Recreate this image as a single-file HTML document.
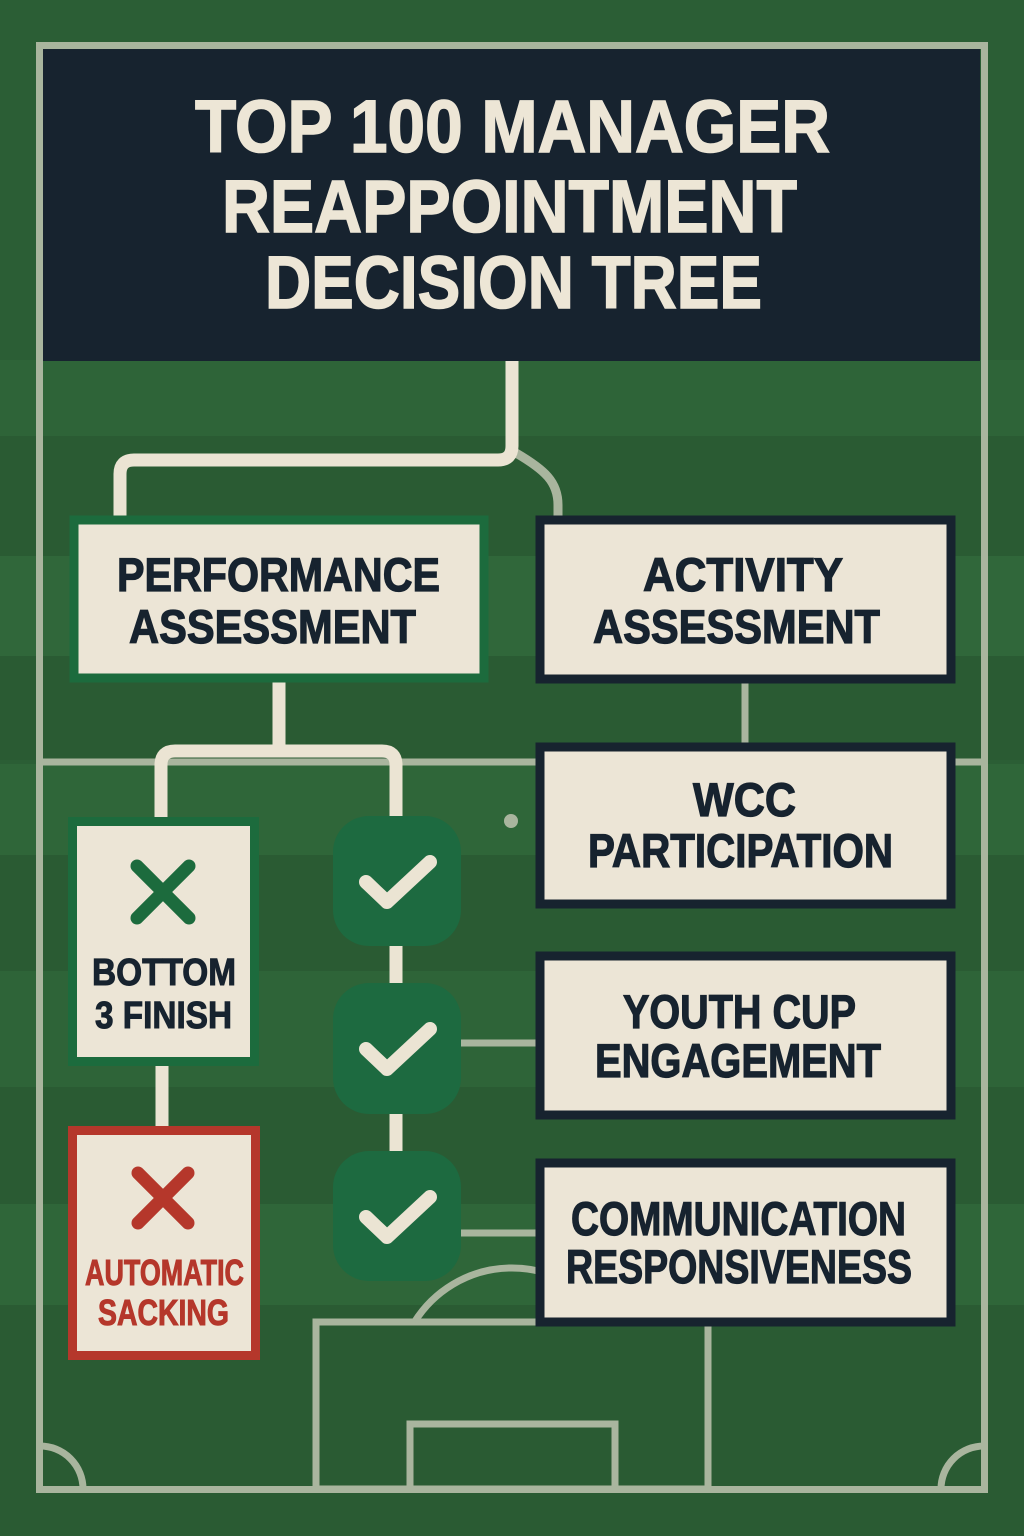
<!DOCTYPE html>
<html><head><meta charset="utf-8"><style>
html,body{margin:0;padding:0;background:#2b5e35;}
svg{display:block;}
text{font-family:"Liberation Sans",Arial,sans-serif;font-weight:bold;}
</style></head><body>
<svg width="1024" height="1536" viewBox="0 0 1024 1536" xmlns="http://www.w3.org/2000/svg">
<!-- background stripes -->
<rect x="0" y="0" width="1024" height="1536" fill="#2b5e35"/>
<rect x="0" y="360" width="1024" height="76" fill="#2e6438"/>
<rect x="0" y="436" width="1024" height="120" fill="#2a5b33"/>
<rect x="0" y="556" width="1024" height="100" fill="#30673a"/>
<rect x="0" y="656" width="1024" height="104" fill="#2a5b33"/>
<rect x="0" y="764" width="1024" height="91" fill="#2f6639"/>
<rect x="0" y="855" width="1024" height="116" fill="#2a5b33"/>
<rect x="0" y="971" width="1024" height="116" fill="#2e6438"/>
<rect x="0" y="1087" width="1024" height="117" fill="#2a5b33"/>
<rect x="0" y="1204" width="1024" height="101" fill="#2f6639"/>
<rect x="0" y="1305" width="1024" height="231" fill="#2a5b33"/>

<!-- pitch lines -->
<g stroke="#a9b59e" stroke-width="7" fill="none">
  <rect x="39.5" y="45.5" width="945" height="1444"/>
  <line x1="40" y1="762" x2="984" y2="762"/>
  <rect x="316" y="1322" width="392" height="167"/>
  <rect x="410" y="1424" width="205" height="65"/>
  <path d="M 414.5 1322 A 115 115 0 0 1 609.5 1322"/>
  <path d="M 40 1446 A 43 43 0 0 1 83 1489"/>
  <path d="M 984 1446 A 43 43 0 0 0 941 1489"/>
  <line x1="461" y1="1043" x2="538" y2="1043"/>
  <line x1="461" y1="1233" x2="538" y2="1233"/>
  <line x1="745" y1="680" x2="745" y2="746"/>
</g>
<circle cx="511" cy="821" r="7" fill="#a9b59e"/>
<!-- gray branch -->
<path d="M 516 453 C 545 470, 558 482, 558 505 L 558 520" stroke="#a9b59e" stroke-width="9" fill="none"/>

<!-- title -->
<rect x="43" y="49" width="937" height="312" fill="#17232f"/>
<g fill="#ede6d6" stroke="#ede6d6" stroke-width="1.5">
  <text x="195" y="152" font-size="74" textLength="635" lengthAdjust="spacingAndGlyphs">TOP 100 MANAGER</text>
  <text x="222" y="232" font-size="74" textLength="575" lengthAdjust="spacingAndGlyphs">REAPPOINTMENT</text>
  <text x="265" y="308" font-size="74" textLength="497" lengthAdjust="spacingAndGlyphs">DECISION TREE</text>
</g>

<!-- cream connectors -->
<g stroke="#ebe4d3" stroke-width="13" fill="none">
  <path d="M 512 361 L 512 446 Q 512 460 498 460 L 134 460 Q 120 460 120 474 L 120 518"/>
  <path d="M 279 680 L 279 751"/>
  <path d="M 161 820 L 161 765 Q 161 751 175 751 L 382 751 Q 396 751 396 765 L 396 820"/>
  <path d="M 162 1062 L 162 1130"/>
  <path d="M 396 942 L 396 987"/>
  <path d="M 396 1110 L 396 1155"/>
</g>

<!-- Performance box -->
<rect x="74" y="520" width="410" height="158" fill="#ece5d6" stroke="#1c6b3d" stroke-width="9"/>
<g fill="#17232f" stroke="#17232f" stroke-width="1.2">
  <text x="117" y="591" font-size="47" textLength="323" lengthAdjust="spacingAndGlyphs">PERFORMANCE</text>
  <text x="129" y="643" font-size="47" textLength="287" lengthAdjust="spacingAndGlyphs">ASSESSMENT</text>
</g>

<!-- Right boxes -->
<g fill="#ece5d6" stroke="#17232f" stroke-width="9">
  <rect x="540" y="520" width="411" height="159"/>
  <rect x="540" y="747" width="411" height="157"/>
  <rect x="540" y="956" width="411" height="159"/>
  <rect x="540" y="1163" width="411" height="159"/>
</g>
<g fill="#17232f" stroke="#17232f" stroke-width="1.2">
  <text x="643" y="591" font-size="47" textLength="200" lengthAdjust="spacingAndGlyphs">ACTIVITY</text>
  <text x="593" y="643" font-size="47" textLength="287" lengthAdjust="spacingAndGlyphs">ASSESSMENT</text>
  <text x="693" y="816" font-size="47" textLength="103" lengthAdjust="spacingAndGlyphs">WCC</text>
  <text x="588" y="867" font-size="47" textLength="305" lengthAdjust="spacingAndGlyphs">PARTICIPATION</text>
  <text x="623" y="1028" font-size="47" textLength="233" lengthAdjust="spacingAndGlyphs">YOUTH CUP</text>
  <text x="595" y="1077" font-size="47" textLength="286" lengthAdjust="spacingAndGlyphs">ENGAGEMENT</text>
  <text x="571" y="1235" font-size="47" textLength="335" lengthAdjust="spacingAndGlyphs">COMMUNICATION</text>
  <text x="566" y="1283" font-size="47" textLength="346" lengthAdjust="spacingAndGlyphs">RESPONSIVENESS</text>
</g>

<!-- Bottom 3 box -->
<rect x="72.5" y="821.5" width="182" height="240" fill="#ece5d6" stroke="#1c6b3d" stroke-width="9"/>
<g stroke="#1c6b3d" stroke-width="13" stroke-linecap="round">
  <line x1="137" y1="866" x2="189" y2="918"/>
  <line x1="189" y1="866" x2="137" y2="918"/>
</g>
<g fill="#17232f" stroke="#17232f" stroke-width="1">
  <text x="92" y="985" font-size="38" textLength="144" lengthAdjust="spacingAndGlyphs">BOTTOM</text>
  <text x="95" y="1028" font-size="38" textLength="137" lengthAdjust="spacingAndGlyphs">3 FINISH</text>
</g>

<!-- Automatic sacking box -->
<rect x="72.5" y="1130.5" width="183" height="225" fill="#ece5d6" stroke="#b5372b" stroke-width="9"/>
<g stroke="#b5372b" stroke-width="13" stroke-linecap="round">
  <line x1="138" y1="1173" x2="188" y2="1223"/>
  <line x1="188" y1="1173" x2="138" y2="1223"/>
</g>
<g fill="#b5372b" stroke="#b5372b" stroke-width="1">
  <text x="85" y="1285" font-size="36" textLength="159" lengthAdjust="spacingAndGlyphs">AUTOMATIC</text>
  <text x="98" y="1325" font-size="36" textLength="131" lengthAdjust="spacingAndGlyphs">SACKING</text>
</g>

<!-- check tiles -->
<g fill="#1d6a40">
  <rect x="333" y="816" width="128" height="130" rx="36"/>
  <rect x="333" y="983" width="128" height="131" rx="36"/>
  <rect x="333" y="1151" width="128" height="130" rx="36"/>
</g>
<g stroke="#ebe4d3" stroke-width="14" stroke-linecap="round" stroke-linejoin="round" fill="none">
  <polyline points="366,882 387,902 430,862"/>
  <polyline points="366,1049 387,1069 430,1029"/>
  <polyline points="366,1217 387,1237 430,1197"/>
</g>
</svg>
</body></html>
